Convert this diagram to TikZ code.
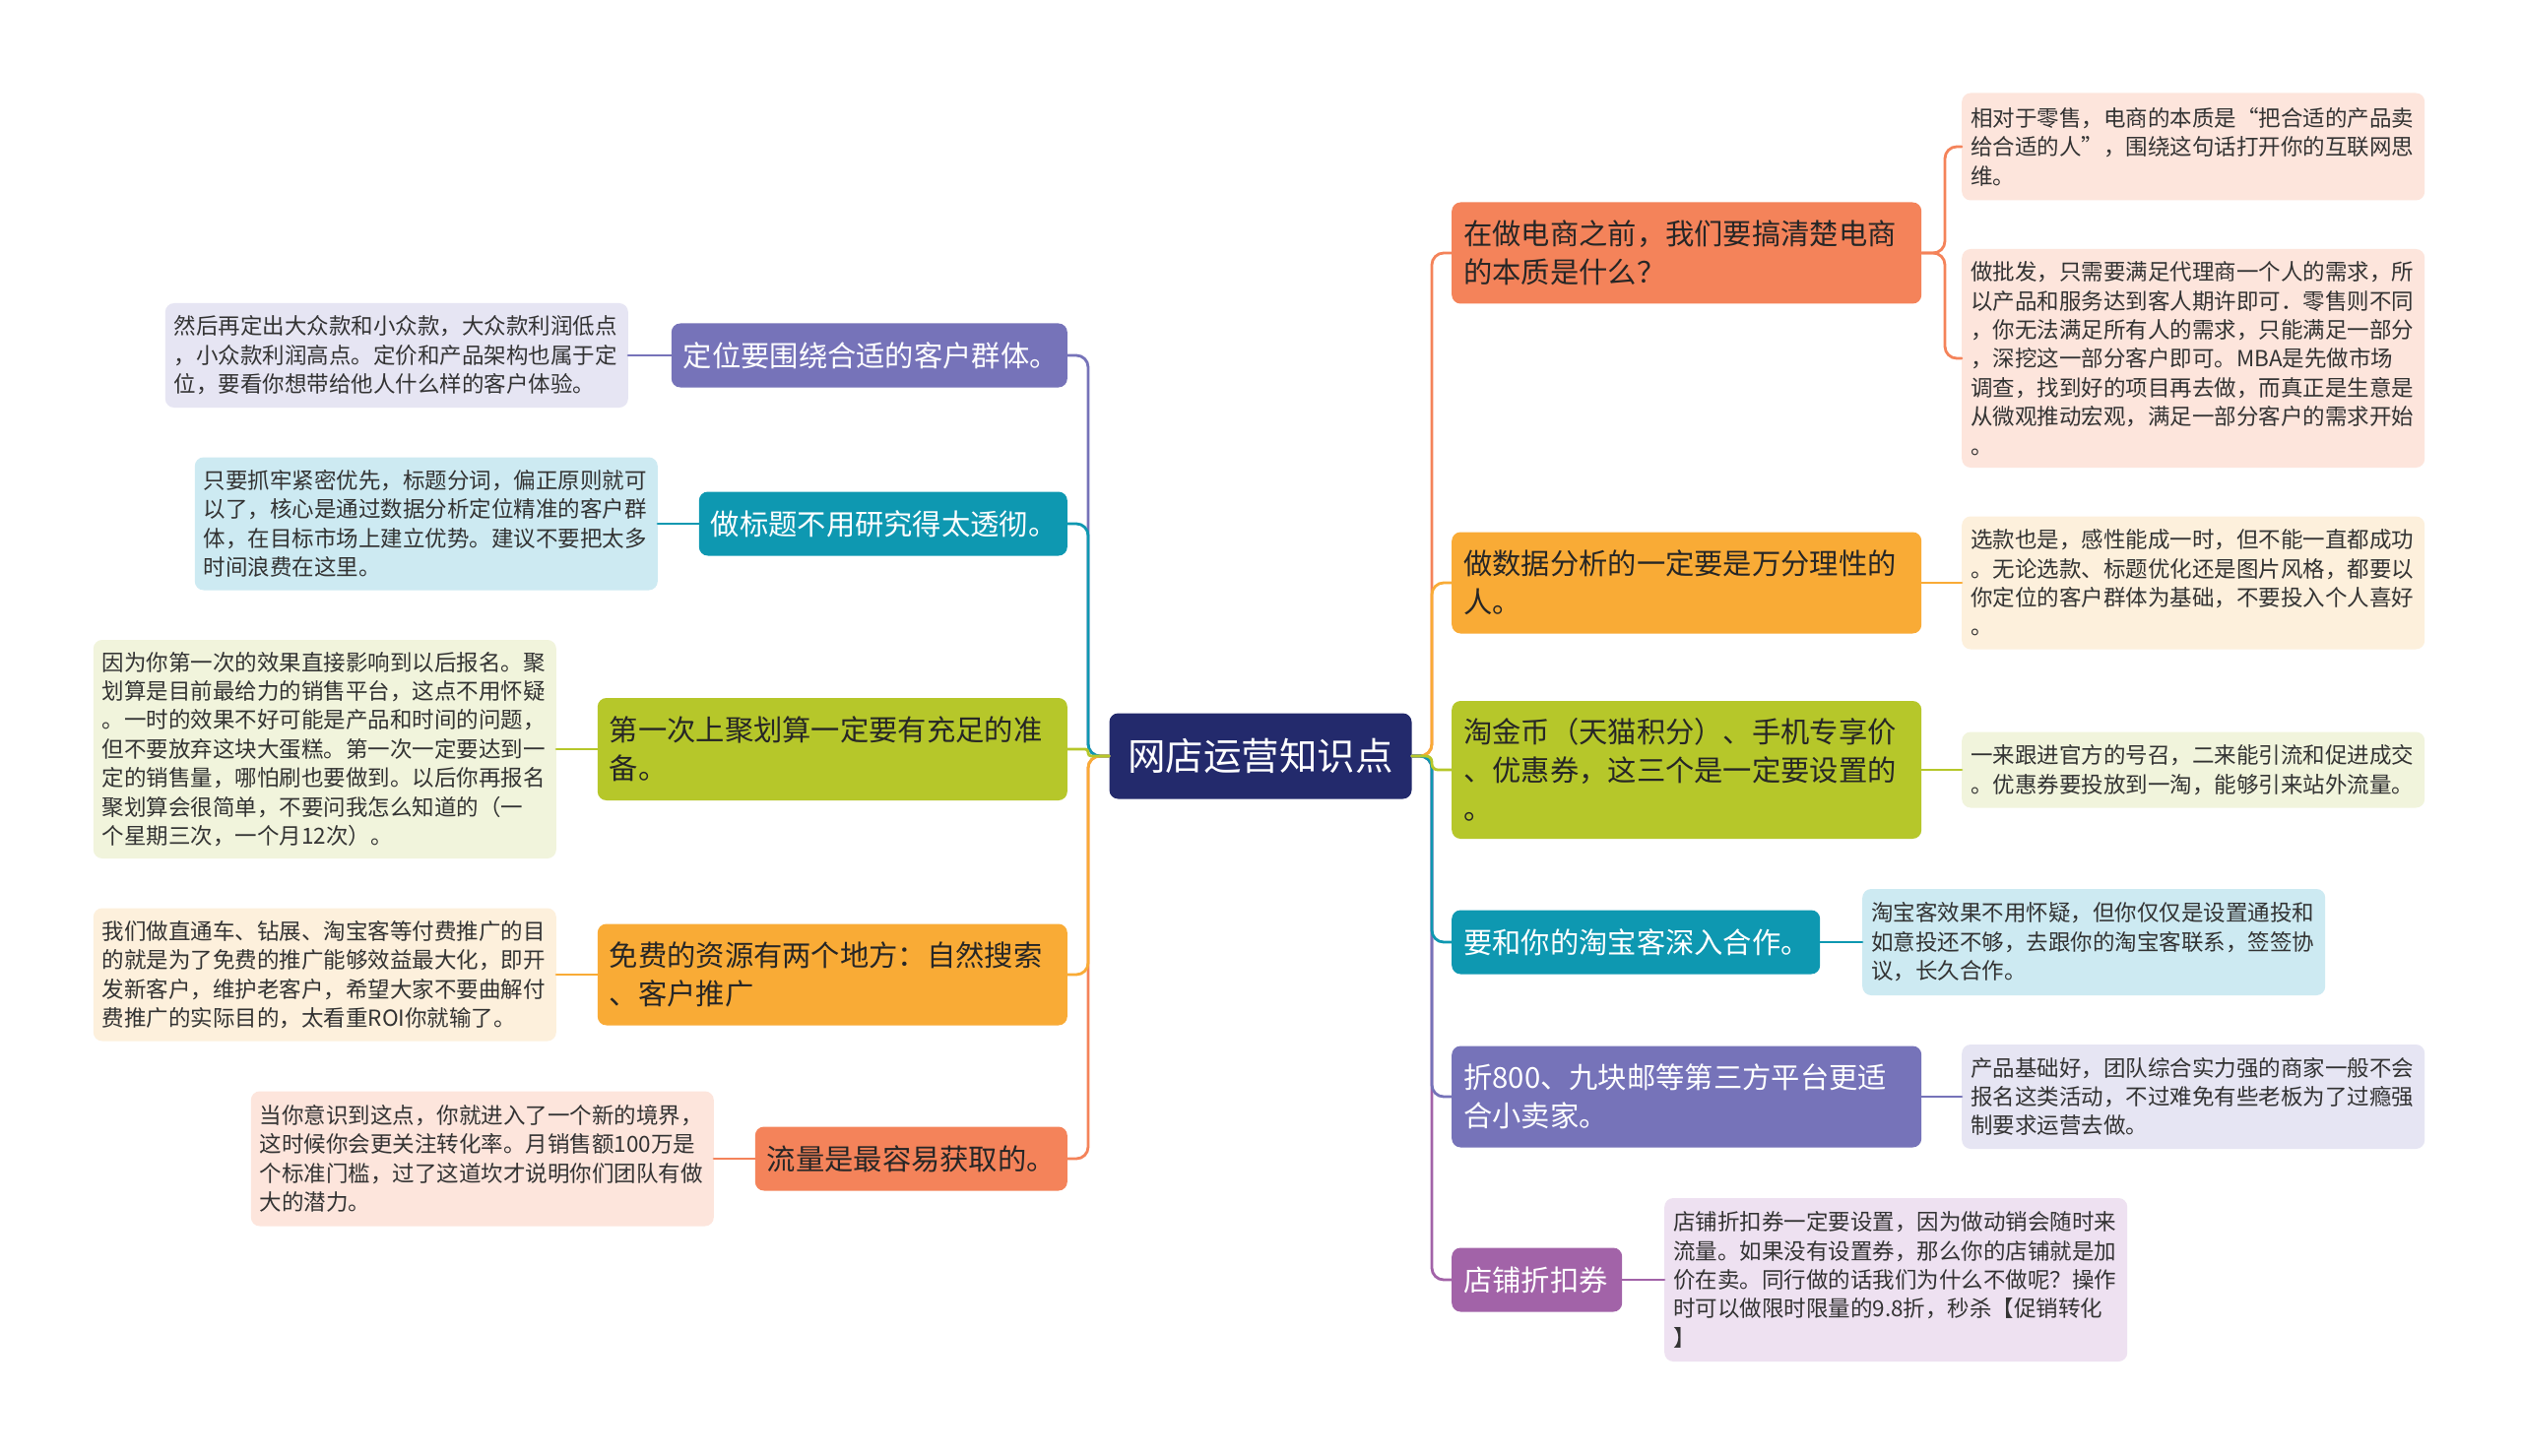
\documentclass[tikz,border=0pt]{standalone}
\usepackage{fontspec}
\newfontfamily\cjk{Noto Sans CJK SC}
\definecolor{cnavy}{HTML}{232A6C}
\definecolor{cpurple}{HTML}{7673B9}
\definecolor{cteal}{HTML}{0E98B1}
\definecolor{cgreen}{HTML}{B6C72A}
\definecolor{corange}{HTML}{F9AB36}
\definecolor{ccoral}{HTML}{F4835A}
\definecolor{cmauve}{HTML}{A263A8}
\definecolor{lpurple}{HTML}{E6E5F3}
\definecolor{lteal}{HTML}{CDEAF2}
\definecolor{lgreen}{HTML}{F1F4DC}
\definecolor{lorange}{HTML}{FDF0DC}
\definecolor{lcoral}{HTML}{FDE5DC}
\definecolor{lmauve}{HTML}{EEE1F1}
\definecolor{txt}{HTML}{333333}
\definecolor{mtxt}{HTML}{262626}
\begin{document}
\begin{tikzpicture}[x=1pt,y=-1pt,
  mnode/.style={rounded corners=9, inner xsep=12pt, inner ysep=2pt, align=left,
    font=\cjk\fontsize{29.3}{39}\selectfont, text=mtxt},
  leafbox/.style={rounded corners=9, inner xsep=9pt, inner ysep=2pt, align=left,
    font=\cjk\fontsize{22.5}{29.4}\selectfont, text=txt, text width=452pt},
  ln/.style={line width=2.8pt, rounded corners=12, line cap=round}]
\fill[white] (0,0) rectangle (2560,1479);
\useasboundingbox (0,0) rectangle (2560,1479);

% center
\node[fill=cnavy, rounded corners=9, text=white, font=\cjk\fontsize{38.5}{46}\selectfont,
  minimum width=307pt, minimum height=87pt, inner sep=0pt] (c) at (1280,768) {网店运营知识点};

% left main nodes
\node[mnode, fill=cpurple, text=white, text width=378pt, minimum height=65pt, anchor=east] (L1) at (1084,361) {定位要围绕合适的客户群体。};
\node[mnode, fill=cteal, text=white, text width=350pt, minimum height=65pt, anchor=east] (L2) at (1084,532) {做标题不用研究得太透彻。};
\node[mnode, fill=cgreen, text width=453pt, minimum height=104pt, anchor=east] (L3) at (1084,761) {第一次上聚划算一定要有充足的准\\备。};
\node[mnode, fill=corange, text width=453pt, minimum height=103pt, anchor=east] (L4) at (1084,990) {免费的资源有两个地方：自然搜索\\、客户推广};
\node[mnode, fill=ccoral, text width=293pt, minimum height=65pt, anchor=east] (L5) at (1084,1177) {流量是最容易获取的。};

% left leaves
\node[leafbox, fill=lpurple, minimum height=106pt, anchor=east] (LL1) at (638,361) {然后再定出大众款和小众款，大众款利润低点\\，小众款利润高点。定价和产品架构也属于定\\位，要看你想带给他人什么样的客户体验。};
\node[leafbox, fill=lteal, minimum height=135pt, anchor=east] (LL2) at (668,532) {只要抓牢紧密优先，标题分词，偏正原则就可\\以了，核心是通过数据分析定位精准的客户群\\体，在目标市场上建立优势。建议不要把太多\\时间浪费在这里。};
\node[leafbox, fill=lgreen, minimum height=222pt, anchor=east] (LL3) at (565,761) {因为你第一次的效果直接影响到以后报名。聚\\划算是目前最给力的销售平台，这点不用怀疑\\。一时的效果不好可能是产品和时间的问题，\\但不要放弃这块大蛋糕。第一次一定要达到一\\定的销售量，哪怕刷也要做到。以后你再报名\\聚划算会很简单，不要问我怎么知道的（一\\个星期三次，一个月12次）。};
\node[leafbox, fill=lorange, minimum height=135pt, anchor=east] (LL4) at (565,990) {我们做直通车、钻展、淘宝客等付费推广的目\\的就是为了免费的推广能够效益最大化，即开\\发新客户，维护老客户，希望大家不要曲解付\\费推广的实际目的，太看重ROI你就输了。};
\node[leafbox, fill=lcoral, minimum height=137pt, anchor=east] (LL5) at (725,1177) {当你意识到这点，你就进入了一个新的境界，\\这时候你会更关注转化率。月销售额100万是\\个标准门槛，过了这道坎才说明你们团队有做\\大的潜力。};

% right main nodes
\node[mnode, fill=ccoral, text width=453pt, minimum height=103pt, anchor=west] (R1) at (1474,257) {在做电商之前，我们要搞清楚电商\\的本质是什么？};
\node[mnode, fill=corange, text width=453pt, minimum height=103pt, anchor=west] (R2) at (1474,592) {做数据分析的一定要是万分理性的\\人。};
\node[mnode, fill=cgreen, text width=453pt, minimum height=140pt, anchor=west] (R3) at (1474,782) {淘金币（天猫积分）、手机专享价\\、优惠券，这三个是一定要设置的\\。};
\node[mnode, fill=cteal, text=white, text width=350pt, minimum height=65pt, anchor=west] (R4) at (1474,957) {要和你的淘宝客深入合作。};
\node[mnode, fill=cpurple, text=white, text width=453pt, minimum height=103pt, anchor=west] (R5) at (1474,1114) {折800、九块邮等第三方平台更适\\合小卖家。};
\node[mnode, fill=cmauve, text=white, text width=149pt, minimum height=65pt, anchor=west] (R6) at (1474,1300) {店铺折扣券};

% right leaves
\node[leafbox, fill=lcoral, minimum height=109pt, anchor=west] (RL1a) at (1992,149) {相对于零售，电商的本质是“把合适的产品卖\\给合适的人”，围绕这句话打开你的互联网思\\维。};
\node[leafbox, fill=lcoral, minimum height=222pt, anchor=west] (RL1b) at (1992,364) {做批发，只需要满足代理商一个人的需求，所\\以产品和服务达到客人期许即可．零售则不同\\，你无法满足所有人的需求，只能满足一部分\\，深挖这一部分客户即可。MBA是先做市场\\调查，找到好的项目再去做，而真正是生意是\\从微观推动宏观，满足一部分客户的需求开始\\。};
\node[leafbox, fill=lorange, minimum height=135pt, anchor=west] (RL2) at (1992,592) {选款也是，感性能成一时，但不能一直都成功\\。无论选款、标题优化还是图片风格，都要以\\你定位的客户群体为基础，不要投入个人喜好\\。};
\node[leafbox, fill=lgreen, minimum height=77pt, anchor=west] (RL3) at (1992,782) {一来跟进官方的号召，二来能引流和促进成交\\。优惠券要投放到一淘，能够引来站外流量。};
\node[leafbox, fill=lteal, minimum height=108pt, anchor=west] (RL4) at (1891,957) {淘宝客效果不用怀疑，但你仅仅是设置通投和\\如意投还不够，去跟你的淘宝客联系，签签协\\议，长久合作。};
\node[leafbox, fill=lpurple, minimum height=106pt, anchor=west] (RL5) at (1992,1114) {产品基础好，团队综合实力强的商家一般不会\\报名这类活动，不过难免有些老板为了过瘾强\\制要求运营去做。};
\node[leafbox, fill=lmauve, minimum height=166pt, anchor=west] (RL6) at (1690,1300) {店铺折扣券一定要设置，因为做动销会随时来\\流量。如果没有设置券，那么你的店铺就是加\\价在卖。同行做的话我们为什么不做呢？操作\\时可以做限时限量的9.8折，秒杀【促销转化\\】};

% trunk coordinates
\coordinate (lt) at (1105,768);
\coordinate (rt) at (1454,768);

% left branches (outer first)
\draw[ln, cpurple] (c.west) -- (lt) |- (L1.east);
\draw[ln, ccoral] (c.west) -- (lt) |- (L5.east);
\draw[ln, cteal] (c.west) -- (lt) |- (L2.east);
\draw[ln, corange] (c.west) -- (lt) |- (L4.east);
\draw[ln, cgreen, rounded corners=3] (c.west) -- (lt) |- (L3.east);

% right branches (outer first)
\draw[ln, ccoral] (c.east) -- (rt) |- (R1.west);
\draw[ln, cmauve] (c.east) -- (rt) |- (R6.west);
\draw[ln, corange] (c.east) -- (rt) |- (R2.west);
\draw[ln, cpurple] (c.east) -- (rt) |- (R5.west);
\draw[ln, cteal] (c.east) -- (rt) |- (R4.west);
\draw[ln, cgreen, rounded corners=6] (c.east) -- (rt) |- (R3.west);

% leaf connectors
\draw[ln, cpurple] (L1.west) -- (LL1.east);
\draw[ln, cteal] (L2.west) -- (LL2.east);
\draw[ln, cgreen] (L3.west) -- (LL3.east);
\draw[ln, corange] (L4.west) -- (LL4.east);
\draw[ln, ccoral] (L5.west) -- (LL5.east);
\coordinate (rb) at (1975,257);
\draw[ln, ccoral] (R1.east) -- (rb) |- (RL1a.west);
\draw[ln, ccoral] (R1.east) -- (rb) |- (RL1b.west);
\draw[ln, corange] (R2.east) -- (RL2.west);
\draw[ln, cgreen] (R3.east) -- (RL3.west);
\draw[ln, cteal] (R4.east) -- (RL4.west);
\draw[ln, cpurple] (R5.east) -- (RL5.west);
\draw[ln, cmauve] (R6.east) -- (RL6.west);
\end{tikzpicture}
\end{document}
